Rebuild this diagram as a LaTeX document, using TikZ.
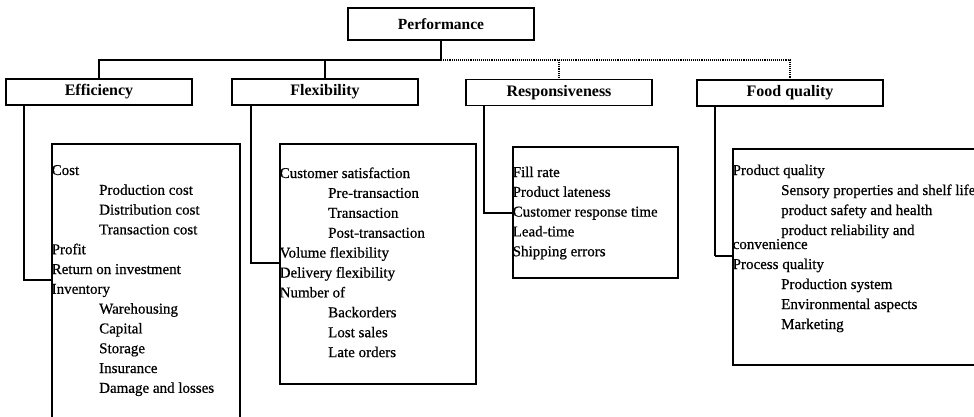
\documentclass[tikz,border=0pt]{standalone}
\usepackage{fontspec}
\setmainfont{Liberation Serif}
\newfontfamily\itemfont[FakeBold=0.6]{Liberation Serif}
\begin{document}
\begin{tikzpicture}[x=1pt,y=-1pt,
  headbox/.style={draw,line width=1.9pt,minimum width=186pt,minimum height=26pt,inner sep=0pt,
    font=\fontsize{16}{18}\selectfont\bfseries},
  listbox/.style={draw,line width=1.9pt,inner sep=0pt,anchor=north west},
  item/.style={inner sep=0pt,anchor=base west,font=\itemfont\fontsize{15}{17}\selectfont},
  wire/.style={line width=1.9pt},
  thinwire/.style={line width=1.1pt,densely dotted}]
\useasboundingbox (0,0) rectangle (974,416);
\clip (0,0) rectangle (974,416);

% top level and the four groups
\node[headbox,minimum height=32pt,font=\fontsize{15.5}{18}\selectfont\bfseries] (perf) at (441,24) {Performance};
\node[headbox] (eff)  at (99,92)    {Efficiency};
\node[headbox] (flex) at (325,92)   {Flexibility};
\node[headbox] (resp) at (559,92.5) {Responsiveness};
\node[headbox] (food) at (790,93)   {Food quality};

% indicator lists
\node[listbox,minimum width=188pt,minimum height=300pt] (efflist)  at (51,143)  {};
\node[listbox,minimum width=196pt,minimum height=240pt] (flexlist) at (279,143) {};
\node[listbox,minimum width=165pt,minimum height=131pt] (resplist) at (512,146) {};
\node[listbox,minimum width=260pt,minimum height=216pt] (foodlist) at (732,148) {};

% bus joining the groups
\coordinate (bus) at (441,60);
\draw[wire] (perf.south) -- (bus);
\draw[wire] (eff.north) -- (eff.north |- bus) -- (bus);
\draw[wire] (flex.north) -- (flex.north |- bus);
\draw[thinwire] (bus) -- (food.north |- bus) -- (food.north);
\draw[thinwire] (resp.north |- bus) -- (resp.north);

% group to list connectors
\coordinate (effbend)  at (24,280);
\coordinate (flexbend) at (251,263);
\coordinate (respbend) at (484,213);
\coordinate (foodbend) at (715,256);
\draw[wire] (eff.south -| effbend) -- (effbend) -- (efflist.west |- effbend);
\draw[wire] (flex.south -| flexbend) -- (flexbend) -- (flexlist.west |- flexbend);
\draw[wire] (resp.south -| respbend) -- (respbend) -- (resplist.west |- respbend);
\draw[wire] (food.south -| foodbend) -- (foodbend);
\draw[line width=1.1pt] (foodbend) -- (foodlist.west |- foodbend);

% Efficiency items
\foreach \lvl/\txt [count=\i from 0] in {0/Cost,1/Production cost,1/Distribution cost,1/Transaction cost,
    0/Profit,0/Return on investment,0/Inventory,1/Warehousing,1/Capital,1/Storage,1/Insurance,1/Damage and losses}
  \node[item] (eff-\i) at ({51.5+\lvl*47.5},{175+\i*19.8}) {\txt};

% Flexibility items
\foreach \lvl/\txt [count=\i from 0] in {0/Customer satisfaction,1/Pre-transaction,1/Transaction,1/Post-transaction,
    0/Volume flexibility,0/Delivery flexibility,0/Number of,1/Backorders,1/Lost sales,1/Late orders}
  \node[item] (flex-\i) at ({279.5+\lvl*48.5},{178+\i*19.9}) {\txt};

% Responsiveness items
\foreach \txt [count=\i from 0] in {Fill rate,Product lateness,Customer response time,Lead-time,Shipping errors}
  \node[item] (resp-\i) at (512.5,{177+\i*19.8}) {\txt};

% Food quality items
\foreach \y/\lvl/\txt [count=\i from 0] in {175/0/Product quality,195/1/Sensory properties and shelf life,
    215/1/product safety and health,235/1/product reliability and,249/0/convenience,269/0/Process quality,
    289/1/Production system,309/1/Environmental aspects,329/1/Marketing}
  \node[item] (food-\i) at ({732.5+\lvl*48.5},\y) {\txt};
\end{tikzpicture}
\end{document}
